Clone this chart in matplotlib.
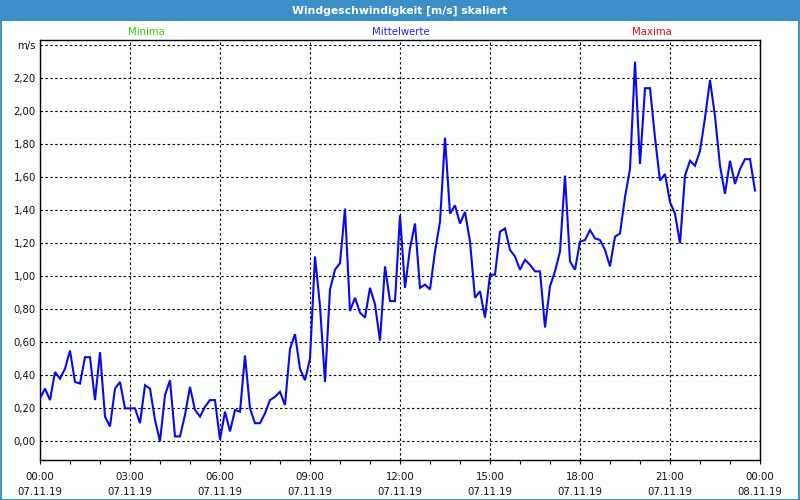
import matplotlib
matplotlib.use("Agg")
import matplotlib.pyplot as plt
import numpy as np
from matplotlib.patches import Rectangle

# 10-minute mean wind speed values, 07.11.19 00:00 .. 23:50
speeds = [
    0.26, 0.32, 0.25, 0.42, 0.38, 0.44, 0.55, 0.36, 0.35, 0.51, 0.51, 0.25,
    0.54, 0.15, 0.09, 0.32, 0.36, 0.20, 0.20, 0.20, 0.11, 0.34, 0.32, 0.13,
    0.00, 0.28, 0.37, 0.03, 0.03, 0.16, 0.33, 0.19, 0.15, 0.21, 0.25, 0.25,
    0.01, 0.18, 0.06, 0.19, 0.18, 0.52, 0.20, 0.11, 0.11, 0.17, 0.25, 0.27,
    0.30, 0.22, 0.56, 0.65, 0.44, 0.37, 0.50, 1.12, 0.82, 0.36, 0.92, 1.04,
    1.08, 1.41, 0.79, 0.87, 0.78, 0.75, 0.93, 0.83, 0.61, 1.06, 0.85, 0.85,
    1.37, 0.93, 1.17, 1.32, 0.93, 0.95, 0.92, 1.15, 1.33, 1.84, 1.38, 1.43,
    1.32, 1.39, 1.21, 0.87, 0.91, 0.75, 1.01, 1.01, 1.27, 1.29, 1.16, 1.12,
    1.04, 1.10, 1.07, 1.03, 1.03, 0.69, 0.94, 1.03, 1.15, 1.61, 1.09, 1.04,
    1.21, 1.22, 1.28, 1.23, 1.22, 1.16, 1.06, 1.24, 1.26, 1.48, 1.65, 2.30,
    1.68, 2.14, 2.14, 1.84, 1.58, 1.62, 1.45, 1.38, 1.20, 1.61, 1.70, 1.67,
    1.76, 1.96, 2.19, 1.97, 1.67, 1.50, 1.70, 1.56, 1.65, 1.71, 1.71, 1.52,
]
hours = np.arange(len(speeds)) / 6.0

y_ticks = [0.0, 0.2, 0.4, 0.6, 0.8, 1.0, 1.2, 1.4, 1.6, 1.8, 2.0, 2.2, 2.4]
y_labels = ["0,00", "0,20", "0,40", "0,60", "0,80", "1,00", "1,20", "1,40",
            "1,60", "1,80", "2,00", "2,20", "m/s"]
x_ticks = [0, 3, 6, 9, 12, 15, 18, 21, 24]
x_labels = ["00:00\n07.11.19", "03:00\n07.11.19", "06:00\n07.11.19",
            "09:00\n07.11.19", "12:00\n07.11.19", "15:00\n07.11.19",
            "18:00\n07.11.19", "21:00\n07.11.19", "00:00\n08.11.19"]
legend_names = ["Minima", "Mittelwerte", "Maxima"]
legend_colors = ["#3ccc00", "#2222ee", "#cc1010"]
title = "Windgeschwindigkeit [m/s] skaliert"

plt.rcParams['font.family'] = ['DejaVu Sans']
fig = plt.figure(figsize=(8, 5), dpi=100)
fig.patch.set_facecolor("#fcfdfd")

# window frame and title bar
frame_col = "#3b8fc6"
fig.add_artist(Rectangle((0, 1 - 21 / 500), 1, 21 / 500, transform=fig.transFigure,
                         facecolor=frame_col, edgecolor="none", zorder=0))
fig.add_artist(Rectangle((0.5 / 800, 0.5 / 500), 1 - 2 / 800, 1 - 1.5 / 500,
                         transform=fig.transFigure, facecolor="none",
                         edgecolor=frame_col, linewidth=1.4, zorder=0))
fig.text(0.5, 1 - 10.5 / 500, title, color="white", fontsize=7.8,
         fontweight="bold", ha="center", va="center")

ax = fig.add_axes([40 / 800, 40 / 500, 720 / 800, 420 / 500])
ax.set_facecolor("#fcfdfd")
ax.plot(hours, speeds, color="#0a0ae6", linewidth=1.5, zorder=3,
        solid_joinstyle="miter")

ax.set_xlim(0, 24)
ax.set_ylim(-0.113, 2.432)
ax.set_yticks(y_ticks)
ax.set_yticklabels(y_labels)
ax.set_xticks(x_ticks)
ax.set_xticklabels(x_labels, linespacing=1.55)
ax.set_xticks(np.arange(0, 25, 1), minor=True)

ax.tick_params(axis="y", length=0, pad=3, labelsize=7.3, colors="#111111")
ax.tick_params(axis="x", which="both", direction="out", length=3, width=0.8,
               pad=6, labelsize=7.3, colors="#111111")
ax.grid(True, which="major", color="black", linestyle=(0, (2.2, 2.2)),
        linewidth=0.8, zorder=1)
for s in ax.spines.values():
    s.set_color("black")
    s.set_linewidth(1.0)

legend_x = [146, 401, 652]
for name, col, xp in zip(legend_names, legend_colors, legend_x):
    fig.text(xp / 800, 1 - 32 / 500, name, color=col, fontsize=7.3,
             ha="center", va="center")

fig.savefig("out.png", dpi=100, facecolor=fig.get_facecolor())
